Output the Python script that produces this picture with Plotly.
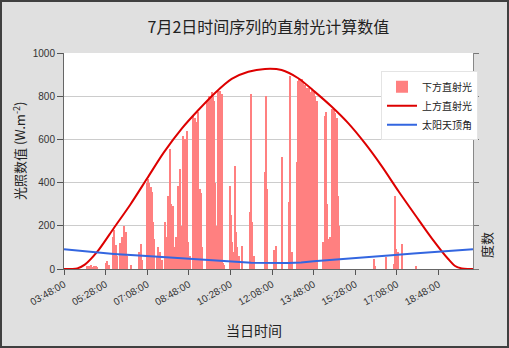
import plotly.graph_objects as go
import pandas as pd

DAY = "2023-07-02 "

# 下方直射光 (bars)
bar_times = ["04:44", "04:48", "04:52", "04:56", "05:00", "05:04", "05:08",
             "05:28", "05:32", "05:36", "05:46", "05:49", "05:52", "05:55",
             "06:03", "06:07", "06:10", "06:13", "06:16", "06:19", "06:28",
             "06:48", "06:52", "06:56", "07:07", "07:10", "07:13", "07:16",
             "07:19", "07:22", "07:25", "07:32", "07:35", "07:38", "07:43",
             "07:51", "07:55", "07:59", "08:03", "08:06", "08:10", "08:14",
             "08:18", "08:23", "08:27", "08:31", "08:35", "08:38", "08:41",
             "08:44", "08:47", "08:51", "08:59", "09:02", "09:05", "09:08",
             "09:11", "09:14", "09:17", "09:20", "09:31", "09:34", "09:37",
             "09:40", "09:43", "09:46", "09:49", "09:52", "09:55", "09:58",
             "10:01", "10:04", "10:07", "10:10", "10:13", "10:27", "10:30",
             "10:33", "10:36", "10:39", "10:42", "10:45", "10:49", "10:57",
             "11:15", "11:18", "11:21", "11:24", "11:50", "11:53", "11:56",
             "12:13", "12:17", "12:31", "12:49", "12:52", "12:55", "13:07",
             "13:10", "13:13", "13:16", "13:19", "13:22", "13:25", "13:28",
             "13:31", "13:34", "13:37", "13:40", "13:43", "13:46", "13:49",
             "13:52", "13:55", "14:11", "14:15", "14:18", "14:21", "14:24",
             "14:28", "14:31", "14:34", "14:37", "14:40", "14:43", "14:46",
             "14:49", "16:12", "16:16", "16:42", "17:00", "17:04", "17:07",
             "17:10", "17:20", "17:54"]
bar_values = [15, 12, 18, 10, 15, 12, 8,
              30, 35, 20, 150, 180, 110, 60,
              120, 150, 90, 200, 170, 60, 20,
              77, 115, 40, 400, 417, 400, 380,
              355, 216, 140, 60, 100, 80, 40,
              216, 150, 340, 555, 300, 293, 100,
              150, 386, 463, 200, 617, 600, 560,
              640, 123, 60, 710, 700, 680, 463,
              725, 370, 350, 100, 780, 770, 800,
              790, 818, 800, 780, 400, 200, 825,
              820, 825, 810, 30, 20, 386, 250,
              123, 80, 478, 170, 100, 60, 108,
              262, 810, 216, 60, 447, 800, 370,
              90, 108, 517, 308, 895, 77, 494,
              870, 880, 870, 880, 860, 850, 850,
              840, 830, 840, 820, 830, 810, 820,
              800, 780, 123, 710, 725, 300, 139,
              150, 740, 730, 740, 720, 700, 340,
              200, 46, 15, 54, 23, 340, 93,
              80, 116, 15]

# 上方直射光 (red line)
upper_times = ["03:48", "04:08", "04:20", "04:38", "05:08", "05:48", "06:28",
               "07:08", "07:48", "08:31", "09:11", "09:51", "10:31", "11:11",
               "11:51", "12:31", "13:11", "13:51", "14:31", "15:11", "15:52",
               "16:32", "17:12", "17:52", "18:32", "19:12", "19:28", "19:44",
               "19:58", "20:11"]
upper_values = [0, 0, 3, 20, 80, 190, 300,
                420, 540, 650, 736, 815, 880, 913,
                926, 921, 883, 820, 752, 675, 580,
                475, 360, 250, 142, 45, 14, 3,
                0, 0]

# 太阳天顶角 (blue line)
zenith_times = ["03:48", "04:48", "05:48", "06:48", "07:48", "08:48", "09:48",
                "10:48", "11:18", "12:48", "13:18", "13:48", "14:48", "15:48",
                "16:48", "17:48", "18:48", "19:48", "20:11"]
zenith_values = [91, 79, 70, 62, 55, 47, 40,
                 32, 29, 28, 30, 36, 44, 53,
                 63, 72, 81, 89, 92]

x_range = ["03:48", "20:11"]


def to_dt(ts):
    return pd.to_datetime([DAY + t for t in ts])


CJK = "Noto Sans CJK SC"
LAT = "Liberation Sans"

fig = go.Figure()
fig.add_trace(go.Bar(
    x=to_dt(bar_times), y=bar_values, name="下方直射光",
    marker=dict(color="#ff8080", line=dict(width=0)),
    width=150000,
))
fig.add_trace(go.Scatter(
    x=to_dt(upper_times), y=upper_values, name="上方直射光", mode="lines",
    line=dict(color="#dd0000", width=2, shape="spline", smoothing=0.8),
))
fig.add_trace(go.Scatter(
    x=to_dt(zenith_times), y=zenith_values, name="太阳天顶角", mode="lines",
    line=dict(color="#3366e0", width=2), yaxis="y2",
))

tickfont = dict(family=LAT, size=10, color="#333333")

fig.update_layout(
    width=509, height=348,
    margin=dict(l=64, r=36, t=53, b=79),
    paper_bgcolor="#e0e0e0", plot_bgcolor="white",
    title=dict(text="7月2日时间序列的直射光计算数值", x=0.5, xanchor="center",
               xref="paper", y=1 - 27 / 348, yanchor="middle",
               font=dict(family=CJK, size=16, color="#222222")),
    bargap=0,
    legend=dict(x=(381 - 64) / 409, y=0.915, xanchor="left", yanchor="top",
                bgcolor="white", bordercolor="#e4e4e4", borderwidth=1,
                font=dict(family=CJK, size=10, color="#222222"),
                itemwidth=30),
    xaxis=dict(type="date", range=to_dt(x_range),
               tick0=DAY + "03:48", dtick=6000000, tickformat="%H:%M:%S",
               tickangle=-30, ticks="outside", ticklen=5, tickcolor="#555555",
               showline=True, linecolor="#666666", linewidth=1,
               showgrid=False, tickfont=tickfont, zeroline=False),
    yaxis=dict(range=[0, 1000], dtick=200, ticks="outside", ticklen=6,
               tickcolor="#555555", showline=True, linecolor="#666666",
               gridcolor="#cccccc", tickfont=tickfont, zeroline=False),
    yaxis2=dict(overlaying="y", side="right", range=[0, 1000], dtick=200,
                showticklabels=False, ticks="outside", ticklen=5,
                tickcolor="#777777", showline=True, linecolor="#888888",
                showgrid=False, zeroline=False),
    annotations=[
        dict(text="当日时间", xref="paper", yref="paper",
             x=(254 - 64) / 409, y=(269 - 330) / 216, showarrow=False,
             xanchor="center", yanchor="middle",
             font=dict(family=CJK, size=14, color="#222222")),
        dict(text="光照数值 (W.m<sup>-2</sup>)", xref="paper", yref="paper",
             x=(19 - 64) / 409, y=(269 - 151) / 216, showarrow=False,
             textangle=-90, xanchor="center", yanchor="middle",
             font=dict(family=CJK, size=13, color="#222222")),
        dict(text="度数", xref="paper", yref="paper",
             x=(486 - 64) / 409, y=(269 - 245) / 216, showarrow=False,
             textangle=-90, xanchor="center", yanchor="middle",
             font=dict(family=CJK, size=13, color="#222222")),
    ],
    shapes=[
        dict(type="rect", xref="paper", yref="paper",
             x0=-63 / 409, x1=444 / 409, y0=-78 / 216, y1=268 / 216,
             line=dict(color="#404040", width=2), fillcolor="rgba(0,0,0,0)",
             layer="above"),
    ],
)

fig.write_html("out.html")
